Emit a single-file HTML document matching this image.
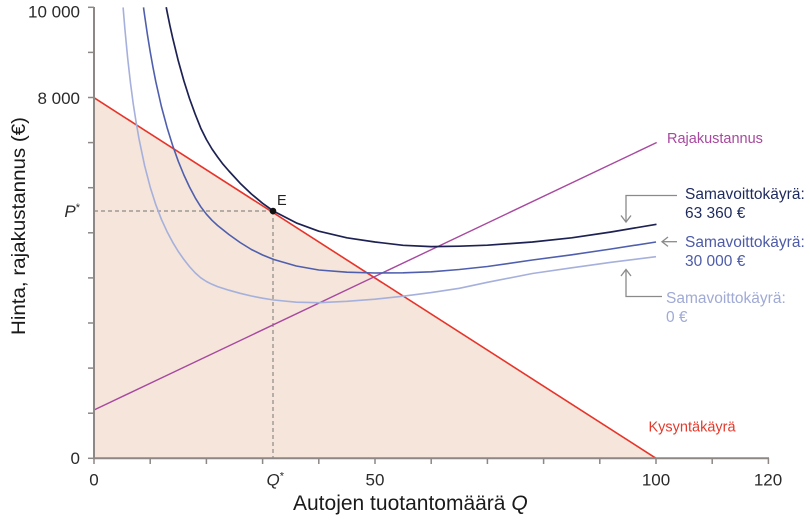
<!DOCTYPE html>
<html>
<head>
<meta charset="utf-8">
<style>
  html, body { margin: 0; padding: 0; background: #ffffff; }
  svg { display: block; }
  text { font-family: "Liberation Sans", "DejaVu Sans", sans-serif; }
</style>
</head>
<body>
<svg width="810" height="521" viewBox="0 0 810 521" xmlns="http://www.w3.org/2000/svg">
  <rect x="0" y="0" width="810" height="521" fill="#ffffff"/>

  <!-- shaded area under demand -->
  <polygon points="94,97.7 656,458.3 94,458.3" fill="#f5e5da"/>

  <!-- dashed guide lines -->
  <line x1="94" y1="211" x2="273" y2="211" stroke="#8f8a88" stroke-width="1.2" stroke-dasharray="4,3"/>
  <line x1="273" y1="211" x2="273" y2="458" stroke="#8f8a88" stroke-width="1.2" stroke-dasharray="4,3"/>

  <!-- demand -->
  <line x1="94" y1="97.7" x2="656" y2="458.3" stroke="#e6342a" stroke-width="1.6"/>

  <!-- marginal cost -->
  <line x1="94" y1="410" x2="656.7" y2="142.5" stroke="#a8489f" stroke-width="1.4"/>

  <!-- isoprofit 0 (light) -->
  <polyline fill="none" stroke="#a6b0dc" stroke-width="1.6" stroke-linejoin="round"
    points="123.1,7.4 124.9,29.1 127.7,58.4 130.5,83.1 133.3,104.3 136.2,122.7 139,138.8 144.6,165.6 150.2,187.1 155.8,204.7 161.4,219.3 167.1,231.7 172.7,242.3 178.3,251.5 183.9,259.5 189.5,266.6 195.2,272.9 200.8,277.8 206.4,281.5 212,284.3 217.6,286.6 228.9,290.2 240.1,293.3 251.4,296 262.6,298.2 273.8,300 296.3,302.2 318.8,302.7 346.9,301.3 375,299.2 403.1,296.2 431.2,292.6 459.3,288.3 487.4,282.3 532.4,273.5 571.7,267.8 611,262.3 656,256.7"/>

  <!-- isoprofit 30 000 (mid) -->
  <polyline fill="none" stroke="#4f5fae" stroke-width="1.6" stroke-linejoin="round"
    points="143.5,7.4 144.6,15.3 147.4,34.5 150.2,51.8 153,67.4 155.8,81.7 161.4,106.5 167.1,127.6 172.7,145.6 178.3,161.3 183.9,175 189.5,187 195.2,197.8 200.8,206.8 206.4,214.2 212,220.3 217.6,225.5 228.9,234.5 240.1,242.5 251.4,249.5 262.6,255 273.8,259.5 296.3,266 318.8,270 346.9,272.2 375,273 403.1,272.8 431.2,271.8 459.3,269.5 487.4,266.5 532.4,260 571.7,254.8 611,249 656,242"/>

  <!-- isoprofit 63 360 (dark) -->
  <polyline fill="none" stroke="#1d2252" stroke-width="1.7" stroke-linejoin="round"
    points="166.2,7.2 167.1,11.8 169.9,25.5 172.7,38.1 178.3,60.9 183.9,80.9 189.5,98.5 195.2,114.2 200.8,128.2 206.4,139.5 212,149 217.6,157 223,164.2 228.9,171 240.1,183.2 251.4,194 262.6,203.3 273.8,211.3 296.3,222.9 318.8,231.2 346.9,237.8 375,242 403.1,245.3 431.2,246.6 459.3,246.2 487.4,245.2 532.4,242 571.7,237.8 611,232 656.5,224.3"/>

  <!-- axes -->
  <line x1="94" y1="7" x2="94" y2="459" stroke="#8d8785" stroke-width="2"/>
  <line x1="93" y1="458.3" x2="769" y2="458.3" stroke="#8d8785" stroke-width="2"/>

  <!-- y ticks -->
  <g stroke="#8d8785" stroke-width="1.5">
    <line x1="88" y1="458.3" x2="94" y2="458.3"/>
    <line x1="88" y1="413.2" x2="94" y2="413.2"/>
    <line x1="88" y1="368.1" x2="94" y2="368.1"/>
    <line x1="88" y1="323" x2="94" y2="323"/>
    <line x1="88" y1="277.9" x2="94" y2="277.9"/>
    <line x1="88" y1="232.8" x2="94" y2="232.8"/>
    <line x1="88" y1="187.7" x2="94" y2="187.7"/>
    <line x1="88" y1="142.6" x2="94" y2="142.6"/>
    <line x1="88" y1="97.5" x2="94" y2="97.5"/>
    <line x1="88" y1="52.4" x2="94" y2="52.4"/>
    <line x1="88" y1="7.3" x2="94" y2="7.3"/>
  </g>
  <!-- x ticks -->
  <g stroke="#8d8785" stroke-width="1.5">
    <line x1="94" y1="458" x2="94" y2="464"/>
    <line x1="150.2" y1="458" x2="150.2" y2="464"/>
    <line x1="206.4" y1="458" x2="206.4" y2="464"/>
    <line x1="262.6" y1="458" x2="262.6" y2="464"/>
    <line x1="318.8" y1="458" x2="318.8" y2="464"/>
    <line x1="375" y1="458" x2="375" y2="464"/>
    <line x1="431.2" y1="458" x2="431.2" y2="464"/>
    <line x1="487.4" y1="458" x2="487.4" y2="464"/>
    <line x1="543.6" y1="458" x2="543.6" y2="464"/>
    <line x1="599.8" y1="458" x2="599.8" y2="464"/>
    <line x1="656" y1="458" x2="656" y2="464"/>
    <line x1="712.2" y1="458" x2="712.2" y2="464"/>
    <line x1="768.4" y1="458" x2="768.4" y2="464"/>
  </g>

  <!-- point E -->
  <circle cx="273" cy="211" r="3.3" fill="#111111"/>
  <text x="277" y="205" font-size="14.5" fill="#222222">E</text>

  <!-- y tick labels -->
  <g font-size="17" fill="#2a2a2a" text-anchor="end">
    <text x="80" y="17.5">10 000</text>
    <text x="80" y="104">8 000</text>
    <text x="80" y="217"><tspan font-style="italic">P</tspan><tspan font-size="11" dy="-6">*</tspan></text>
    <text x="80" y="464">0</text>
  </g>

  <!-- x tick labels -->
  <g font-size="17" fill="#2a2a2a" text-anchor="middle">
    <text x="94" y="485.5">0</text>
    <text x="375" y="485.5">50</text>
    <text x="656" y="485.5">100</text>
    <text x="768" y="485.5">120</text>
  </g>
  <text x="266.5" y="485.5" font-size="17" fill="#2a2a2a"><tspan font-style="italic">Q</tspan><tspan font-size="11" dy="-6">*</tspan></text>

  <!-- axis titles -->
  <text x="293" y="510" font-size="21" fill="#1a1a1a">Autojen tuotantomäärä <tspan font-style="italic">Q</tspan></text>
  <text transform="translate(25,226) rotate(-90)" text-anchor="middle" font-size="19.5" fill="#1a1a1a" textLength="218" lengthAdjust="spacingAndGlyphs">Hinta, rajakustannus (€)</text>

  <!-- series labels -->
  <text x="667" y="143" font-size="14.5" fill="#a8489f">Rajakustannus</text>
  <text x="648.5" y="431.5" font-size="14.5" fill="#e23a2c">Kysyntäkäyrä</text>

  <text x="685" y="199" font-size="15.5" fill="#1e2a5e">Samavoittokäyrä:</text>
  <text x="685" y="218" font-size="15.5" fill="#1e2a5e">63 360 €</text>

  <text x="685" y="247" font-size="15.5" fill="#4d5ba8">Samavoittokäyrä:</text>
  <text x="685" y="266" font-size="15.5" fill="#4d5ba8">30 000 €</text>

  <text x="666" y="303" font-size="15.5" fill="#a0aad5">Samavoittokäyrä:</text>
  <text x="666" y="322" font-size="15.5" fill="#a0aad5">0 €</text>

  <!-- annotation arrows -->
  <g fill="none" stroke="#8a8a8a" stroke-width="1.3">
    <polyline points="677,195.5 626,195.5 626,222"/>
    <polyline points="621,215.5 626,222 631,215.5"/>
    <line x1="677" y1="241.7" x2="662" y2="241.7"/>
    <polyline points="668,237 662,241.7 668,246.4"/>
    <polyline points="662,296.5 626,296.5 626,269.5"/>
    <polyline points="621,276 626,269.5 631,276"/>
  </g>
</svg>
</body>
</html>
